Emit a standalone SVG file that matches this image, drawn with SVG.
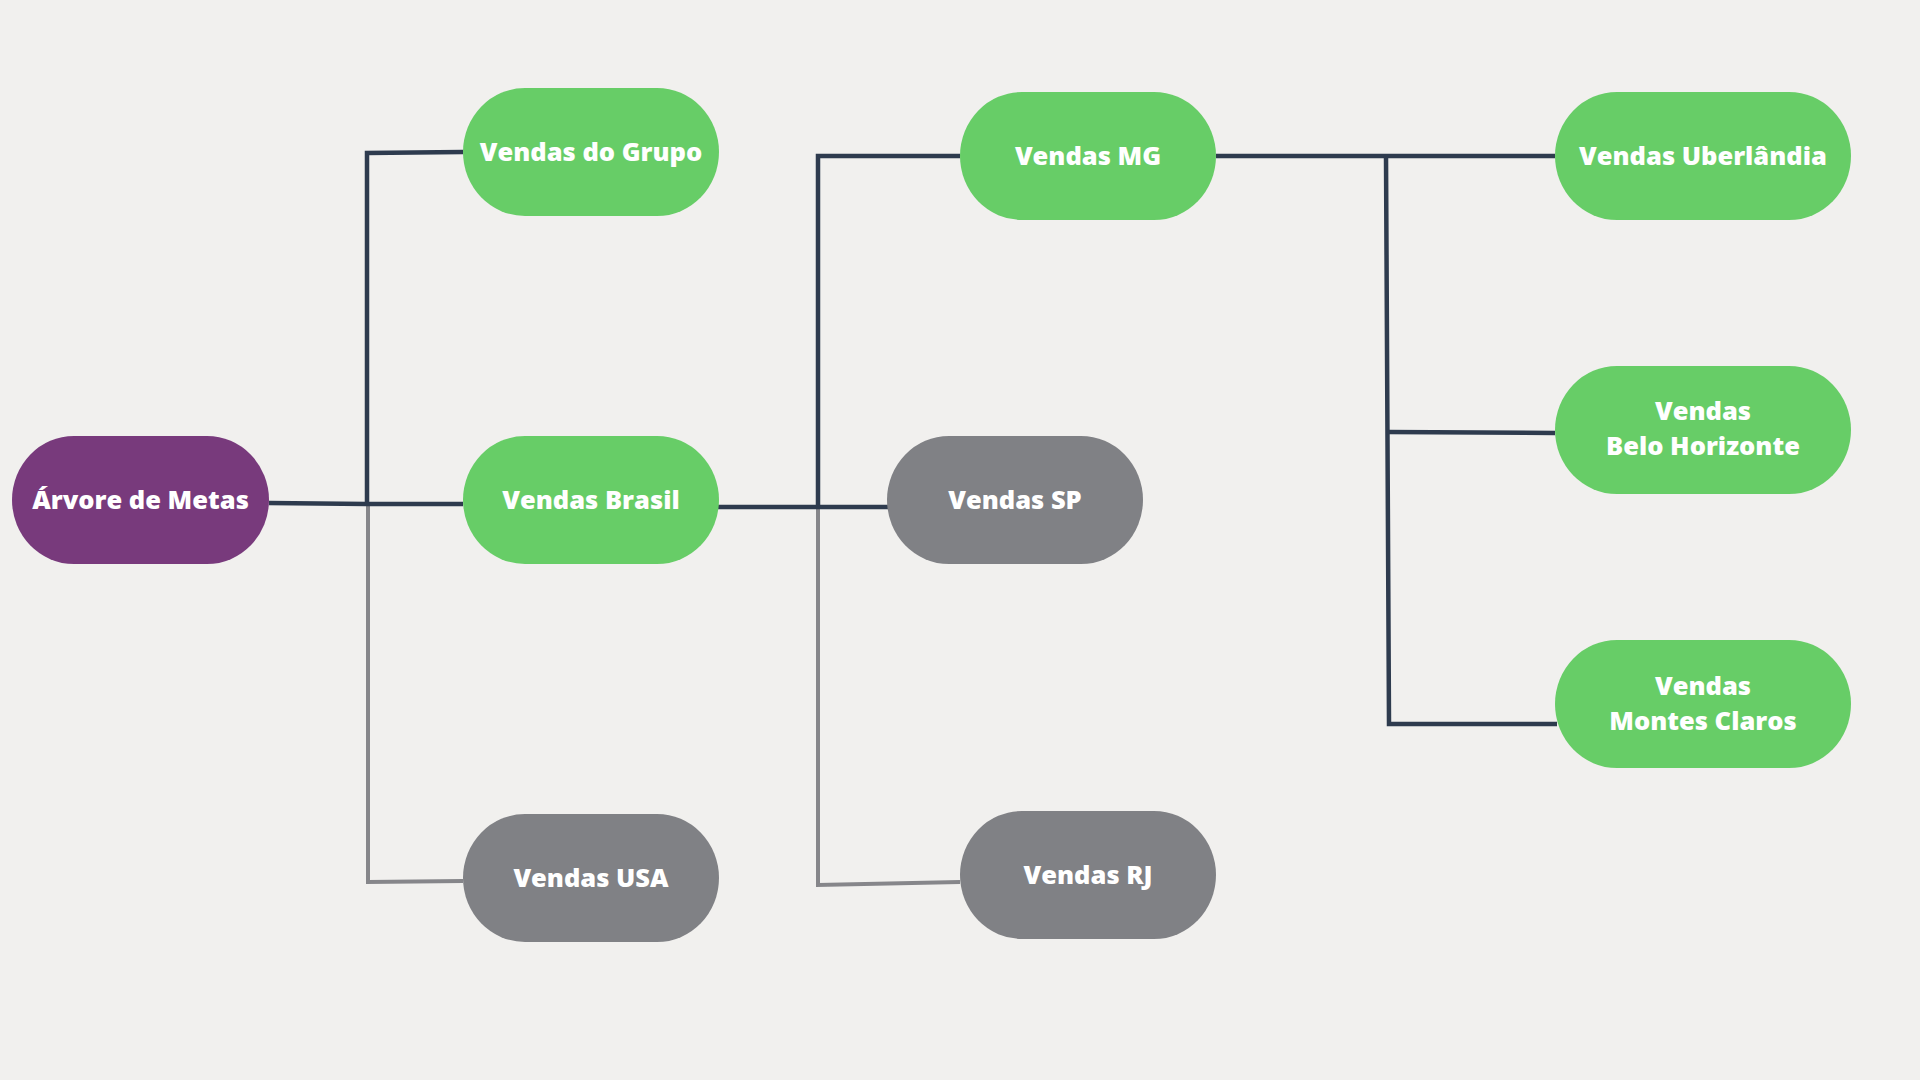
<svg xmlns="http://www.w3.org/2000/svg" width="1920" height="1080" viewBox="0 0 1920 1080">
<style>
.n{stroke:none}
.g{fill:#67cd67}
.p{fill:#783a7c}
.s{fill:#808185}
.t{font-family:"Open Sans","Noto Sans","Liberation Sans",sans-serif;font-weight:800;font-size:25.5px;fill:#ffffff;text-anchor:middle}
.d{stroke:#2e3b4e;stroke-width:4.5;fill:none}
.l{stroke:#86868a;stroke-width:4;fill:none}
</style>
<rect width="1920" height="1080" fill="#f1f0ee"/>
<g id="connectors">
<polyline class="l" points="368,505 368,882 463,881"/>
<polyline class="l" points="818,508 818,885 960,882"/>
<polyline class="d" points="269,503 367,504 463,504"/>
<polyline class="d" points="367,504 367,153 463,152"/>
<polyline class="d" points="718,507 888,507"/>
<polyline class="d" points="818,507 818,156 960,156"/>
<polyline class="d" points="1216,156 1555,156"/>
<polyline class="d" points="1386,156 1389,724 1557,724"/>
<polyline class="d" points="1387,432 1555,433"/>
</g>
<g id="arvore"><rect class="n p" x="12" y="436" width="257" height="128" rx="62" ry="64"/><text class="t" x="140.5" y="509">Árvore de Metas</text></g>
<g id="grupo"><rect class="n g" x="463" y="88" width="256" height="128" rx="62" ry="64"/><text class="t" x="591" y="161">Vendas do Grupo</text></g>
<g id="brasil"><rect class="n g" x="463" y="436" width="256" height="128" rx="62" ry="64"/><text class="t" x="591" y="509">Vendas Brasil</text></g>
<g id="usa"><rect class="n s" x="463" y="814" width="256" height="128" rx="62" ry="64"/><text class="t" x="591" y="887">Vendas USA</text></g>
<g id="mg"><rect class="n g" x="960" y="92" width="256" height="128" rx="62" ry="64"/><text class="t" x="1088" y="165">Vendas MG</text></g>
<g id="sp"><rect class="n s" x="887" y="436" width="256" height="128" rx="62" ry="64"/><text class="t" x="1015" y="509">Vendas SP</text></g>
<g id="rj"><rect class="n s" x="960" y="811" width="256" height="128" rx="62" ry="64"/><text class="t" x="1088" y="884">Vendas RJ</text></g>
<g id="uberlandia"><rect class="n g" x="1555" y="92" width="296" height="128" rx="62" ry="64"/><text class="t" x="1703" y="165">Vendas Uberlândia</text></g>
<g id="bh"><rect class="n g" x="1555" y="366" width="296" height="128" rx="62" ry="64"/><text class="t" x="1703" y="420">Vendas</text><text class="t" x="1703" y="455">Belo Horizonte</text></g>
<g id="mc"><rect class="n g" x="1555" y="640" width="296" height="128" rx="62" ry="64"/><text class="t" x="1703" y="695">Vendas</text><text class="t" x="1703" y="730">Montes Claros</text></g>
</svg>
